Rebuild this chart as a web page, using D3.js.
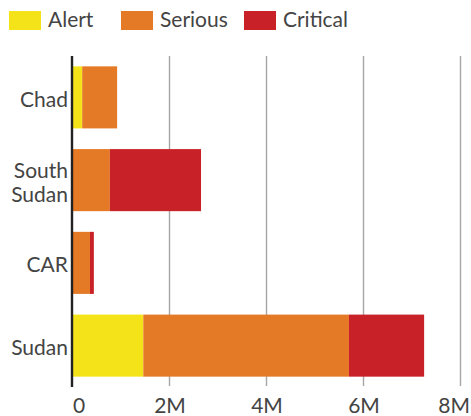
<!DOCTYPE html>
<html><head><meta charset="utf-8">
<script src="https://cdn.jsdelivr.net/npm/d3@7"></script>
<style>body{margin:0;background:#fff}svg{display:block;font-family:Lato,sans-serif}</style>
</head><body><svg id="c" width="471" height="416"></svg>
<script>
const categories = ["Chad", "South Sudan", "CAR", "Sudan"];
const seriesNames = ["Alert", "Serious", "Critical"];
const alertVals = [0.2e6, 0, 0, 1.46e6];
const seriousVals = [0.72e6, 0.77e6, 0.36e6, 4.24e6];
const criticalVals = [0, 1.88e6, 0.08e6, 1.55e6];
const colors = ["#F5E31A", "#E57A26", "#C82128"];
const tickValues = [0, 2e6, 4e6, 6e6, 8e6];
const tickLabels = ["0", "2M", "4M", "6M", "8M"];

const rows = categories.map((c, i) => ({cat: c, Alert: alertVals[i], Serious: seriousVals[i], Critical: criticalVals[i]}));
const stack = d3.stack().keys(seriesNames)(rows);

const svg = d3.select("#c");
const x = d3.scaleLinear().domain([0, 8e6]).range([72.5, 460.5]);
const y = d3.scaleBand().domain(categories).range([56, 387]).paddingInner(0.25).paddingOuter(0.125);
const FS = 21;

// gridlines
svg.append("g").selectAll("line").data(tickValues.slice(1)).join("line")
  .attr("x1", d => x(d)).attr("x2", d => x(d)).attr("y1", 56).attr("y2", 386)
  .attr("stroke", "#a6a6a6").attr("stroke-width", 1.4);

// bars
svg.append("g").selectAll("g").data(stack).join("g")
  .attr("fill", (d, i) => colors[i])
  .selectAll("rect").data(d => d).join("rect")
  .attr("x", d => x(d[0])).attr("width", d => x(d[1]) - x(d[0]))
  .attr("y", d => y(d.data.cat)).attr("height", y.bandwidth());

// x axis labels
const xa = svg.append("g").attr("transform", "translate(0,387)")
  .call(d3.axisBottom(x).tickValues(tickValues).tickFormat((d, i) => tickLabels[i]).tickSize(0).tickPadding(11));
xa.select(".domain").remove();
xa.selectAll("text").attr("font-family", "Lato, sans-serif").attr("font-size", FS).attr("fill", "#444")
  .attr("text-anchor", (d, i) => i === 0 ? "start" : (i === tickValues.length - 1 ? "end" : "middle"))
  .attr("x", (d, i) => i === 0 ? 0 : (i === tickValues.length - 1 ? 9 : 0));

// y axis
const ya = svg.append("g").attr("transform", "translate(72,0)")
  .call(d3.axisLeft(y).tickSize(0).tickPadding(4));
ya.select(".domain").attr("stroke", "#222").attr("stroke-width", 2.4).attr("d", "M0,56V387");
ya.selectAll("text").attr("font-family", "Lato, sans-serif").attr("font-size", FS).attr("fill", "#444")
  .attr("dy", "0.45em")
  .each(function(d) {
    const words = d.split(" ");
    if (words.length > 1) {
      const t = d3.select(this); t.text(null).attr("dy", null);
      words.forEach((w, i) => t.append("tspan").attr("x", -4)
        .attr("dy", i === 0 ? "-0.1em" : "1.16em").text(w));
    }
  });

// legend
const legX = [9, 121, 244];
const lg = svg.append("g").selectAll("g").data(seriesNames).join("g")
  .attr("transform", (d, i) => `translate(${legX[i]},11)`);
lg.append("rect").attr("width", 32).attr("height", 19).attr("fill", (d, i) => colors[i]);
lg.append("text").attr("x", 39).attr("y", 15.8).attr("font-size", FS).attr("fill", "#444").text(d => d);
</script></body></html>
